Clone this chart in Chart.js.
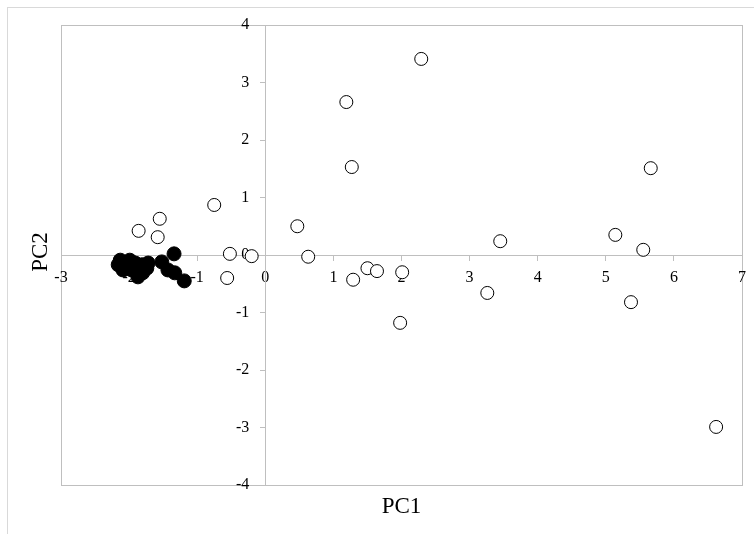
<!DOCTYPE html>
<html>
<head>
<meta charset="utf-8">
<script src="https://cdn.jsdelivr.net/npm/chart.js@4.4.1/dist/chart.umd.min.js"></script>
<style>
  html, body { margin: 0; padding: 0; background: #fff; }
  canvas { display: block; }
</style>
</head>
<body>
<canvas id="pcaChart" width="754" height="534"></canvas>
<script>
// open circles
const openPC1 = [2.29, 1.19, 1.27, 5.66, -0.75, -1.55, -1.86, -1.58, 0.47, -0.52, -0.2, -0.56,
  0.63, 1.5, 1.64, 2.01, 1.29, 3.45, 5.14, 5.55, 3.26, 1.98, 5.37, 6.62];
const openPC2 = [3.41, 2.66, 1.53, 1.51, 0.87, 0.63, 0.42, 0.31, 0.5, 0.02, -0.02, -0.4,
  -0.03, -0.23, -0.28, -0.3, -0.43, 0.24, 0.35, 0.09, -0.66, -1.18, -0.82, -2.99];
// filled circles
const filledPC1 = [-1.34, -1.52, -1.43, -1.33, -1.19, -2.13, -2.16, -2.06, -1.99, -1.91, -1.87,
  -1.81, -1.74, -1.72, -1.96, -2.09, -1.8, -2.02];
const filledPC2 = [0.02, -0.12, -0.26, -0.31, -0.45, -0.09, -0.17, -0.14, -0.09, -0.14, -0.38,
  -0.17, -0.23, -0.14, -0.26, -0.26, -0.31, -0.23];

const xTitle = 'PC1';
const yTitle = 'PC2';

const toPoints = (xs, ys) => xs.map((x, i) => ({ x: x, y: ys[i] }));

const axisGrey = '#bfbfbf';
const serif = "'Liberation Serif', 'Times New Roman', serif";

const framePlugin = {
  id: 'frame',
  beforeDraw(chart) {
    const ctx = chart.ctx;
    const a = chart.chartArea;
    ctx.save();
    // outer chart border
    ctx.strokeStyle = '#d9d9d9';
    ctx.lineWidth = 1;
    ctx.strokeRect(7.5, 7.5, 800, 600);
    // plot area border
    ctx.strokeStyle = axisGrey;
    ctx.strokeRect(Math.round(a.left) + 0.5, Math.round(a.top) + 0.5,
      Math.round(a.right - a.left), Math.round(a.bottom - a.top));
    ctx.restore();
  },
  afterDraw(chart) {
    const ctx = chart.ctx;
    const a = chart.chartArea;
    ctx.save();
    ctx.fillStyle = '#000';
    ctx.font = '23px ' + serif;
    ctx.textAlign = 'center';
    ctx.textBaseline = 'middle';
    ctx.fillText(xTitle, (a.left + a.right) / 2, 507);
    ctx.translate(41, (a.top + a.bottom) / 2 - 3);
    ctx.rotate(-Math.PI / 2);
    ctx.fillText(yTitle, 0, 0);
    ctx.restore();
  }
};

new Chart(document.getElementById('pcaChart').getContext('2d'), {
  type: 'scatter',
  data: {
    datasets: [
      {
        label: 'open',
        data: toPoints(openPC1, openPC2),
        pointStyle: 'circle',
        pointRadius: 6.5,
        pointBackgroundColor: '#ffffff',
        pointBorderColor: '#000000',
        pointBorderWidth: 1
      },
      {
        label: 'filled',
        data: toPoints(filledPC1, filledPC2),
        pointStyle: 'circle',
        pointRadius: 7,
        pointBackgroundColor: '#000000',
        pointBorderColor: '#000000',
        pointBorderWidth: 1
      }
    ]
  },
  options: {
    responsive: false,
    animation: false,
    layout: { padding: { left: 61, top: 25, right: 12, bottom: 49 } },
    plugins: {
      legend: { display: false },
      tooltip: { enabled: false }
    },
    scales: {
      x: {
        type: 'linear',
        min: -3,
        max: 7,
        position: { y: 0 },
        grid: { drawOnChartArea: false, drawTicks: true, tickLength: 5, color: axisGrey },
        border: { color: axisGrey },
        ticks: { stepSize: 1, padding: 8, maxRotation: 0, color: '#000', font: { family: serif, size: 16 } }
      },
      y: {
        type: 'linear',
        min: -4,
        max: 4,
        position: { x: 0 },
        grid: { drawOnChartArea: false, drawTicks: true, tickLength: 5, color: axisGrey },
        border: { color: axisGrey },
        ticks: {
          stepSize: 1,
          color: '#000',
          font: { family: serif, size: 16 },
          // centred axis ignores padding, so push labels off the axis with an em space
          callback: (v) => v + '\u2003'
        }
      }
    }
  },
  plugins: [framePlugin]
});
</script>
</body>
</html>
